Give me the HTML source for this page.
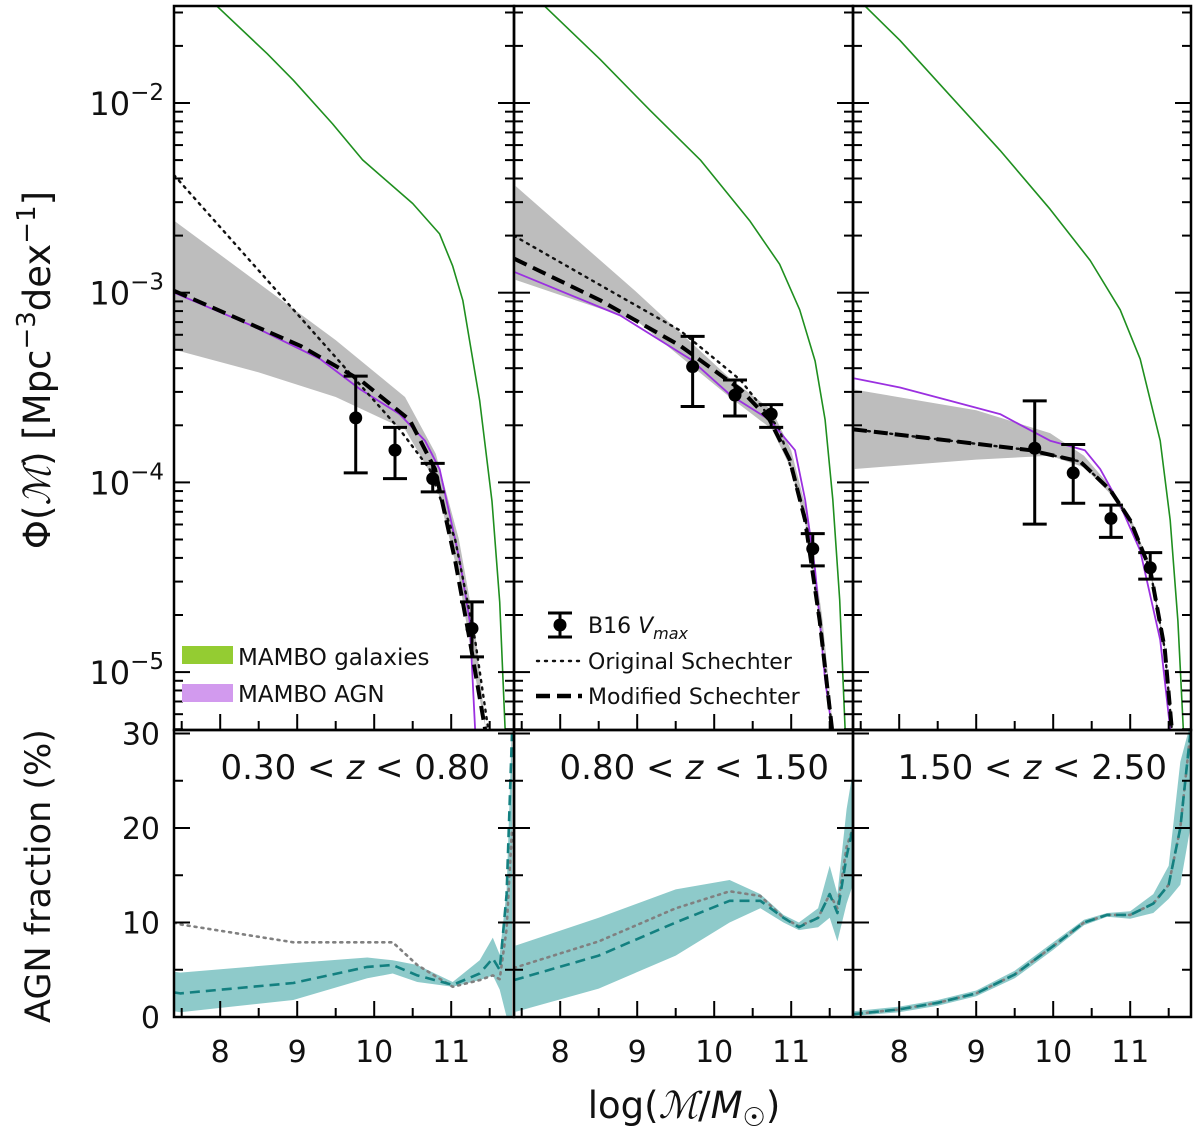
<!DOCTYPE html>
<html><head><meta charset="utf-8">
<style>
html,body{margin:0;padding:0;background:#fff;}
svg{display:block;font-family:"DejaVu Sans","Liberation Sans",sans-serif;}
</style></head>
<body>
<svg id="chart" width="1200" height="1136" viewBox="0 0 1200 1136" xmlns="http://www.w3.org/2000/svg"></svg>
<script>
// ---------- data ----------
const p1GalM=[7.96,8.61,8.95,9.46,9.85,10.50,10.85,11.02,11.15,11.37,11.53,11.63,11.70];
const p1GalL=[-1.49,-1.74,-1.88,-2.11,-2.30,-2.53,-2.69,-2.86,-3.04,-3.57,-4.10,-4.63,-5.3];
const p1AgnM=[7.40,8.39,9.30,9.82,10.33,10.66,10.85,11.11,11.24,11.31];
const p1AgnL=[-3.0,-3.17,-3.35,-3.51,-3.64,-3.78,-3.93,-4.41,-4.73,-5.3];
const p1ModM=[7.40,9.04,9.82,10.46,10.79,11.05,11.24,11.44];
const p1ModL=[-2.99,-3.28,-3.46,-3.67,-3.93,-4.41,-4.83,-5.3];
const p1OrigM=[7.40,10.33,10.72,11.05,11.31,11.48];
const p1OrigL=[-2.38,-3.72,-3.93,-4.30,-4.83,-5.3];
const p1BandM=[7.40,8.5,9.5,10.4,10.8,11.1,11.3,11.45];
const p1BandHi=[-2.62,-2.95,-3.25,-3.55,-3.85,-4.3,-4.75,-5.3];
const p1BandLo=[-3.30,-3.42,-3.55,-3.72,-4.0,-4.5,-5.0,-5.3];
const p1PtM=[9.76,10.27,10.76,11.27];
const p1PtL=[-3.66,-3.83,-3.98,-4.77];
const p1PtHi=[-3.44,-3.71,-3.90,-4.63];
const p1PtLo=[-3.95,-3.98,-4.05,-4.92];
const p2GalM=[7.80,8.52,9.17,9.82,10.46,10.85,11.11,11.31,11.44,11.54,11.63,11.70];
const p2GalL=[-1.49,-1.77,-2.04,-2.30,-2.62,-2.85,-3.09,-3.36,-3.67,-4.09,-4.62,-5.3];
const p2AgnM=[7.40,8.0,8.78,9.69,10.21,10.72,11.05,11.18,11.31,11.44,11.53];
const p2AgnL=[-2.89,-2.99,-3.12,-3.35,-3.54,-3.67,-3.83,-4.09,-4.46,-5.04,-5.3];
const p2ModM=[7.40,8.52,9.56,10.34,10.72,10.98,11.18,11.37,11.53];
const p2ModL=[-2.82,-3.04,-3.28,-3.51,-3.67,-3.88,-4.20,-4.73,-5.3];
const p2OrigM=[7.40,8.52,9.56,10.34,10.85,11.18,11.37,11.53];
const p2OrigL=[-2.70,-2.96,-3.20,-3.46,-3.72,-4.18,-4.73,-5.3];
const p2BandM=[7.40,9.0,10.2,10.75,11.0,11.2,11.4,11.55];
const p2BandHi=[-2.43,-3.0,-3.45,-3.62,-3.83,-4.15,-4.7,-5.3];
const p2BandLo=[-2.93,-3.15,-3.55,-3.72,-3.93,-4.25,-4.8,-5.3];
const p2PtM=[9.72,10.27,10.74,11.28];
const p2PtL=[-3.39,-3.54,-3.64,-4.35];
const p2PtHi=[-3.23,-3.46,-3.59,-4.27];
const p2PtLo=[-3.60,-3.65,-3.71,-4.44];
const p3GalM=[7.56,8.01,8.66,9.31,9.96,10.48,10.87,11.13,11.39,11.52,11.62,11.69];
const p3GalL=[-1.49,-1.67,-1.96,-2.25,-2.56,-2.83,-3.09,-3.35,-3.78,-4.20,-4.73,-5.3];
const p3AgnM=[7.40,8.01,8.66,9.31,9.96,10.41,10.61,10.87,11.13,11.39,11.52];
const p3AgnL=[-3.45,-3.50,-3.57,-3.64,-3.78,-3.83,-3.93,-4.12,-4.36,-4.83,-5.3];
const p3ModM=[7.40,8.66,9.70,10.35,10.74,11.00,11.26,11.45,11.54];
const p3ModL=[-3.72,-3.78,-3.83,-3.89,-4.04,-4.20,-4.46,-4.88,-5.3];
const p3BandM=[7.40,9.0,9.96,10.4,10.74,11.0,11.26,11.45,11.54];
const p3BandHi=[-3.51,-3.62,-3.74,-3.86,-4.02,-4.18,-4.44,-4.86,-5.3];
const p3BandLo=[-3.93,-3.88,-3.86,-3.92,-4.06,-4.22,-4.48,-4.90,-5.3];
const p3PtM=[9.76,10.26,10.75,11.26];
const p3PtL=[-3.82,-3.95,-4.19,-4.45];
const p3PtHi=[-3.57,-3.80,-4.12,-4.37];
const p3PtLo=[-4.22,-4.11,-4.29,-4.51];
const f1M=[7.40,7.48,8.95,9.91,10.24,10.56,11.02,11.37,11.54,11.63,11.72,11.79];
const f1Dash=[2.6,2.5,3.6,5.3,5.5,4.4,3.4,4.6,6.2,5.0,13,30];
const f1Dot=[10.0,9.8,7.9,7.9,7.9,5.5,3.2,3.9,4.4,4.0,9.3,20];
const f1Hi=[4.8,4.7,5.7,6.3,6.0,5.5,3.7,6.0,8.4,6.6,13.4,31];
const f1Lo=[0.6,0.5,1.8,4.1,4.6,3.7,3.2,3.9,4.4,2.9,0,0];
const f2M=[7.40,8.5,9.5,10.2,10.6,10.9,11.1,11.35,11.5,11.6,11.72,11.8];
const f2Dash=[3.9,6.5,10,12.3,12.3,10.5,9.5,10.5,13,11,17,20];
const f2Dot=[5.2,8,11.5,13.3,12.8,10.5,9.6,10.5,13,11.5,18,20];
const f2Hi=[7.5,10.5,13.5,14.5,13,10.8,10,11.5,16,13,22,26];
const f2Lo=[0.5,3,6.5,10,11.5,10,9.2,9.5,10.5,8,12,14];
const f3M=[7.40,8,8.5,9,9.5,10,10.4,10.7,11.0,11.3,11.5,11.65,11.78];
const f3Dash=[0.3,0.8,1.5,2.5,4.5,7.5,10,10.8,10.8,12,14,20,30];
const f3Hi=[0.6,1.1,1.8,2.8,4.9,7.9,10.3,11,11.2,13,16,27,31];
const f3Lo=[0.1,0.5,1.2,2.2,4.1,7.1,9.7,10.6,10.4,11,12.5,14,20];
const xTicks=[8,9,10,11];
const yTopDecades=[-2,-3,-4,-5];
const yBotTicks=[0,10,20,30];
const zLo=["0.30","0.80","1.50"];
const zHi=["0.80","1.50","2.50"];

// ---------- axes ----------
const NS="http://www.w3.org/2000/svg";
const svg=document.getElementById('chart');
const panelLeft=[174,514,853], panelW=[340,339,338];
const TOP=6, MID=730, BOT=1017;
const XMIN=7.40, PXD=77;
function X(p,m){return panelLeft[p]+(m-XMIN)*PXD;}
function YT(l){return 103+(-2-l)*189.7;}
function YB(v){return BOT-v*9.45;}
function mk(tag,attrs,parent){const e=document.createElementNS(NS,tag);for(const k in attrs)e.setAttribute(k,attrs[k]);(parent||svg).appendChild(e);return e;}
function ptsTop(p,ms,ls){return ms.map((m,i)=>X(p,m).toFixed(1)+','+YT(ls[i]).toFixed(1)).join(' ');}
function ptsBot(p,ms,vs){return ms.map((m,i)=>X(p,m).toFixed(1)+','+YB(vs[i]).toFixed(1)).join(' ');}
function bandPath(p,ms,hi,lo,fy){let d='M';ms.forEach((m,i)=>{d+=X(p,m).toFixed(1)+','+fy(hi[i]).toFixed(1)+' L';});
 for(let i=ms.length-1;i>=0;i--){d+=X(p,ms[i]).toFixed(1)+','+fy(lo[i]).toFixed(1)+(i?' L':'');}return d+'Z';}

const defs=mk('defs',{});
for(let p=0;p<3;p++){
 const cpT=mk('clipPath',{id:'ct'+p},defs);mk('rect',{x:panelLeft[p],y:TOP,width:panelW[p],height:MID-TOP},cpT);
 const cpB=mk('clipPath',{id:'cb'+p},defs);mk('rect',{x:panelLeft[p],y:MID,width:panelW[p],height:BOT-MID},cpB);
}

const topData=[
 {gm:p1GalM,gl:p1GalL,am:p1AgnM,al:p1AgnL,dm:p1ModM,dl:p1ModL,om:p1OrigM,ol:p1OrigL,bm:p1BandM,bh:p1BandHi,bl:p1BandLo,pm:p1PtM,pl:p1PtL,ph:p1PtHi,plo:p1PtLo},
 {gm:p2GalM,gl:p2GalL,am:p2AgnM,al:p2AgnL,dm:p2ModM,dl:p2ModL,om:p2OrigM,ol:p2OrigL,bm:p2BandM,bh:p2BandHi,bl:p2BandLo,pm:p2PtM,pl:p2PtL,ph:p2PtHi,plo:p2PtLo},
 {gm:p3GalM,gl:p3GalL,am:p3AgnM,al:p3AgnL,dm:p3ModM,dl:p3ModL,om:p3ModM,ol:p3ModL,bm:p3BandM,bh:p3BandHi,bl:p3BandLo,pm:p3PtM,pl:p3PtL,ph:p3PtHi,plo:p3PtLo}];
const botData=[
 {m:f1M,d:f1Dash,o:f1Dot,h:f1Hi,l:f1Lo},
 {m:f2M,d:f2Dash,o:f2Dot,h:f2Hi,l:f2Lo},
 {m:f3M,d:f3Dash,o:f3Dash,h:f3Hi,l:f3Lo}];

for(let p=0;p<3;p++){
 const t=topData[p];
 const g=mk('g',{'clip-path':'url(#ct'+p+')','stroke-linejoin':'round'});
 
 
 let e=mk('path',{d:bandPath(p,t.bm,t.bh,t.bl,YT),fill:'#bdbdbd',stroke:'none'},g);
 
 
 e=mk('polyline',{points:ptsTop(p,t.gm,t.gl),fill:'none',stroke:'#1f8f1f','stroke-width':1.6},g);
 
 
 e=mk('polyline',{points:ptsTop(p,t.am,t.al),fill:'none',stroke:'#9b30e0','stroke-width':1.8},g);
 
 
 e=mk('polyline',{points:ptsTop(p,t.om,t.ol),fill:'none',stroke:'#111','stroke-width':2.4,'stroke-dasharray':'2 5.5','stroke-linecap':'round'},g);
 
 
 e=mk('polyline',{points:ptsTop(p,t.dm,t.dl),fill:'none',stroke:'#000','stroke-width':4,'stroke-dasharray':'14 7'},g);
 
 
 t.pm.forEach((m,i)=>{
  const x=X(p,m);
  const eg=mk('g',{},g);
  
  
  mk('line',{x1:x,x2:x,y1:YT(t.ph[i]),y2:YT(t.plo[i]),stroke:'#000','stroke-width':3},eg);
  mk('line',{x1:x-12,x2:x+12,y1:YT(t.ph[i]),y2:YT(t.ph[i]),stroke:'#000','stroke-width':3},eg);
  mk('line',{x1:x-12,x2:x+12,y1:YT(t.plo[i]),y2:YT(t.plo[i]),stroke:'#000','stroke-width':3},eg);
  mk('circle',{cx:x,cy:YT(t.pl[i]),r:6.5,fill:'#000'},eg);
 });
 const b=botData[p];
 const gb=mk('g',{'clip-path':'url(#cb'+p+')','stroke-linejoin':'round'});
 
 
 e=mk('path',{d:bandPath(p,b.m,b.h,b.l,YB),fill:'#8ecaca',stroke:'none'},gb);
 
 
 e=mk('polyline',{points:ptsBot(p,b.m,b.o),fill:'none',stroke:'#808080','stroke-width':2.6,'stroke-dasharray':'2 5','stroke-linecap':'round'},gb);
 
 
 e=mk('polyline',{points:ptsBot(p,b.m,b.d),fill:'none',stroke:'#138080','stroke-width':2.6,'stroke-dasharray':'10 6'},gb);
 
 

 const L=panelLeft[p], R=L+panelW[p];
 const tk=mk('g',{stroke:'#000','stroke-width':2});
 
 
 for(let m=7.5;m<=11.76;m+=0.5){
  const x=X(p,m), major=Number.isInteger(m), len=major?16:9;
  mk('line',{x1:x,x2:x,y1:MID,y2:MID-len},tk);
  mk('line',{x1:x,x2:x,y1:BOT,y2:BOT-len},tk);
 }
 yTopDecades.forEach(d=>{
  for(let k=1;k<10;k++){
   const y=YT(d+Math.log10(k));if(y<TOP||y>MID)continue;
   const len=k===1?16:9;
   mk('line',{x1:L,x2:L+len,y1:y,y2:y},tk);mk('line',{x1:R,x2:R-len,y1:y,y2:y},tk);
  }
  if(d===-5){for(let k=2;k<10;k++){const y=YT(d-1+Math.log10(k));if(y<TOP||y>MID)continue;
   mk('line',{x1:L,x2:L+9,y1:y,y2:y},tk);mk('line',{x1:R,x2:R-9,y1:y,y2:y},tk);}}
 });
 for(let v=0;v<=30;v+=5){const y=YB(v),len=v%10===0?16:9;
  mk('line',{x1:L,x2:L+len,y1:y,y2:y},tk);mk('line',{x1:R,x2:R-len,y1:y,y2:y},tk);}
 const fr=mk('rect',{x:L,y:TOP,width:panelW[p],height:MID-TOP,fill:'none',stroke:'#000','stroke-width':2.5});
 
 
 const fb=mk('rect',{x:L,y:MID,width:panelW[p],height:BOT-MID,fill:'none',stroke:'#000','stroke-width':2.5});
 
 
 xTicks.forEach(v=>{const tx=mk('text',{x:X(p,v),y:1062,'font-size':30,'text-anchor':'middle',fill:'#111'});tx.textContent=v;
  
  });
 const zl=mk('text',{x:R-24,y:779,'font-size':34,'text-anchor':'end',fill:'#111'});
 zl.innerHTML=zLo[p]+' &lt; <tspan font-style="italic">z</tspan> &lt; '+zHi[p];
 
 
}
yTopDecades.forEach(d=>{
 const tx=mk('text',{x:164,y:YT(d)+12,'font-size':32,'text-anchor':'end',fill:'#111'});
 
 
 const a=mk('tspan',{},tx);a.textContent='10';
 const s=mk('tspan',{dy:-15,'font-size':23},tx);s.textContent='\u2212'+(-d);
});
yBotTicks.forEach(v=>{
 const tx=mk('text',{x:160,y:YB(v)+11,'font-size':30,'text-anchor':'end',fill:'#111'});
 tx.textContent=v;
 
 
});
</script>
<script>
(function(){
const NS="http://www.w3.org/2000/svg";const svg=document.getElementById('chart');
function mk(tag,a,p){const e=document.createElementNS(NS,tag);for(const k in a)e.setAttribute(k,a[k]);(p||svg).appendChild(e);return e;}
let t=mk('text',{transform:'translate(50,370) rotate(-90)','font-size':37,'text-anchor':'middle',fill:'#111'});


t.innerHTML='Φ(<tspan font-family="Liberation Serif,serif" font-style="italic">ℳ</tspan>) [Mpc<tspan dy="-15" font-size="26">−3</tspan><tspan dy="15">dex</tspan><tspan dy="-15" font-size="26">−1</tspan><tspan dy="15">]</tspan>';
t=mk('text',{transform:'translate(50,876) rotate(-90)','font-size':35,'text-anchor':'middle',fill:'#111'});
t.textContent='AGN fraction (%)';


t=mk('text',{x:684,y:1118,'font-size':37,'text-anchor':'middle',fill:'#111'});
t.innerHTML='log(<tspan font-family="Liberation Serif,serif" font-style="italic">ℳ</tspan>/<tspan font-style="italic">M</tspan><tspan font-size="26" dy="8">☉</tspan><tspan dy="-8">)</tspan>';


let g=mk('g',{});
mk('rect',{x:182,y:646,width:51,height:18,fill:'#94cc32'},g);
mk('text',{x:238,y:665,'font-size':23,fill:'#111'},g).textContent='MAMBO galaxies';
mk('rect',{x:182,y:684,width:51,height:18,fill:'#d29aee'},g);
mk('text',{x:238,y:702,'font-size':23,fill:'#111'},g).textContent='MAMBO AGN';
g=mk('g',{});
mk('line',{x1:560,x2:560,y1:613,y2:637,stroke:'#000','stroke-width':3},g);
mk('line',{x1:548,x2:572,y1:613,y2:613,stroke:'#000','stroke-width':3},g);
mk('line',{x1:548,x2:572,y1:637,y2:637,stroke:'#000','stroke-width':3},g);
mk('circle',{cx:560,cy:625,r:6.5,fill:'#000'},g);
let tx=mk('text',{x:588,y:633,'font-size':22,fill:'#111'},g);
tx.innerHTML='B16 <tspan font-style="italic">V</tspan><tspan font-style="italic" font-size="16" dy="6">max</tspan>';
mk('line',{x1:537,x2:580,y1:661,y2:661,stroke:'#111','stroke-width':2.4,'stroke-dasharray':'2 6','stroke-linecap':'round'},g);
mk('text',{x:588,y:669,'font-size':22,fill:'#111'},g).textContent='Original Schechter';
mk('line',{x1:536,x2:582,y1:696,y2:696,stroke:'#000','stroke-width':4.5,'stroke-dasharray':'14 7'},g);
mk('text',{x:588,y:704,'font-size':22,fill:'#111'},g).textContent='Modified Schechter';
})();
</script>
</body></html>
